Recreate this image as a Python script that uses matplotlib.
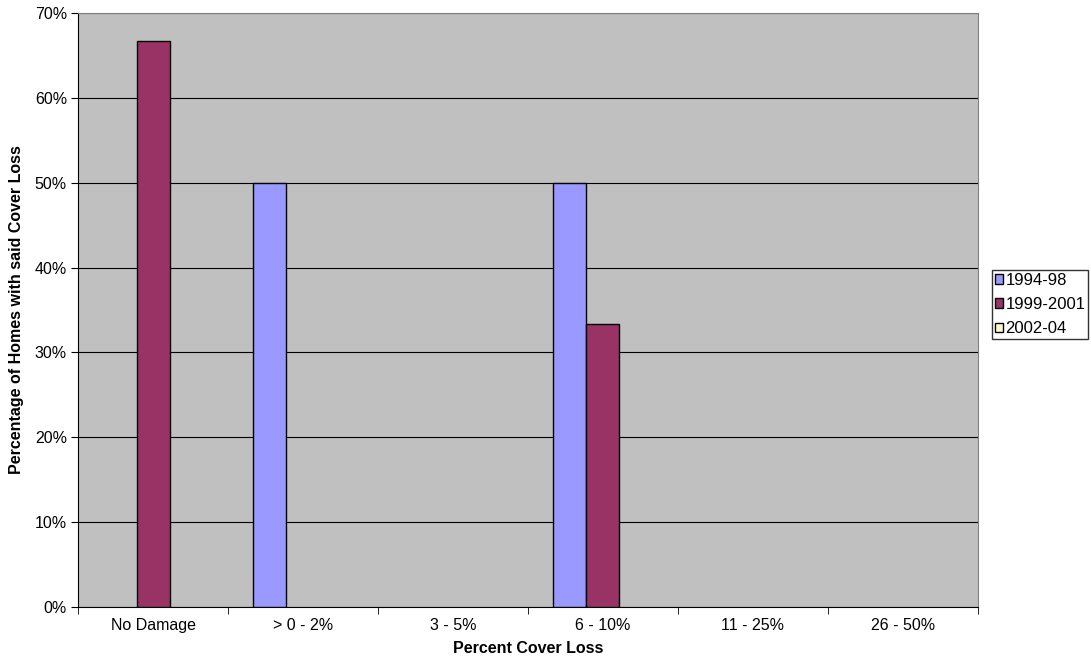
import matplotlib.pyplot as plt
import numpy as np

plt.rcParams['font.family'] = ['Liberation Sans', 'DejaVu Sans']

categories = ['No Damage', '> 0 - 2%', '3 - 5%', '6 - 10%', '11 - 25%', '26 - 50%']
series_names = ['1994-98', '1999-2001', '2002-04']
vals_1994 = [0, 50, 0, 50, 0, 0]
vals_1999 = [66.67, 0, 0, 33.33, 0, 0]
vals_2002 = [0, 0, 0, 0, 0, 0]
colors = ['#9999FF', '#993366', '#FFFFCC']

fig = plt.figure(figsize=(10.91, 6.62), dpi=100)
ax = fig.add_axes([0.0715, 0.0831, 0.8249, 0.8973])
ax.set_facecolor('#C0C0C0')

x = np.arange(len(categories))
w = 0.22
handles = []
for i, (vals, name, c) in enumerate(zip([vals_1994, vals_1999, vals_2002], series_names, colors)):
    v = np.array(vals, dtype=float)
    mask = v > 0
    ax.bar(x[mask] + (i - 1) * w, v[mask], width=w, color=c,
           edgecolor='black', linewidth=1, zorder=3)
    handles.append(plt.Rectangle((0, 0), 1, 1, facecolor=c, edgecolor='black', linewidth=1))

fs = 11.5
ax.set_xlim(-0.5, len(categories) - 0.5)
ax.set_ylim(0, 70)
ax.set_yticks(range(0, 71, 10))
ax.set_yticklabels([f'{t}%' for t in range(0, 71, 10)], fontsize=fs)
ax.set_xticks(x)
ax.set_xticklabels(categories, fontsize=fs)
ax.set_xticks(np.arange(-0.5, len(categories)), minor=True)
ax.tick_params(axis='x', which='major', length=0, pad=8)
ax.tick_params(axis='x', which='minor', length=5, direction='out', color='black')
ax.tick_params(axis='y', length=5, direction='out', color='black', pad=3)
ax.yaxis.grid(True, color='black', linewidth=0.8, zorder=0)
ax.set_axisbelow(True)

for s in ['top', 'right']:
    ax.spines[s].set_color('#808080')
for s in ['left', 'bottom']:
    ax.spines[s].set_color('black')

ax.set_xlabel('Percent Cover Loss', fontsize=fs, fontweight='bold', labelpad=6)
ax.set_ylabel('Percentage of Homes with said Cover Loss', fontsize=fs, fontweight='bold', labelpad=8)

leg = fig.legend(handles, series_names, loc='center left', bbox_to_anchor=(0.9093, 0.54),
                 fontsize=12, frameon=True, fancybox=False, edgecolor='black',
                 handlelength=0.5, handleheight=0.5, handletextpad=0.15,
                 labelspacing=0.55, borderpad=0.15, borderaxespad=0)
leg.get_frame().set_linewidth(1)

fig.savefig('out.png', dpi=100)
